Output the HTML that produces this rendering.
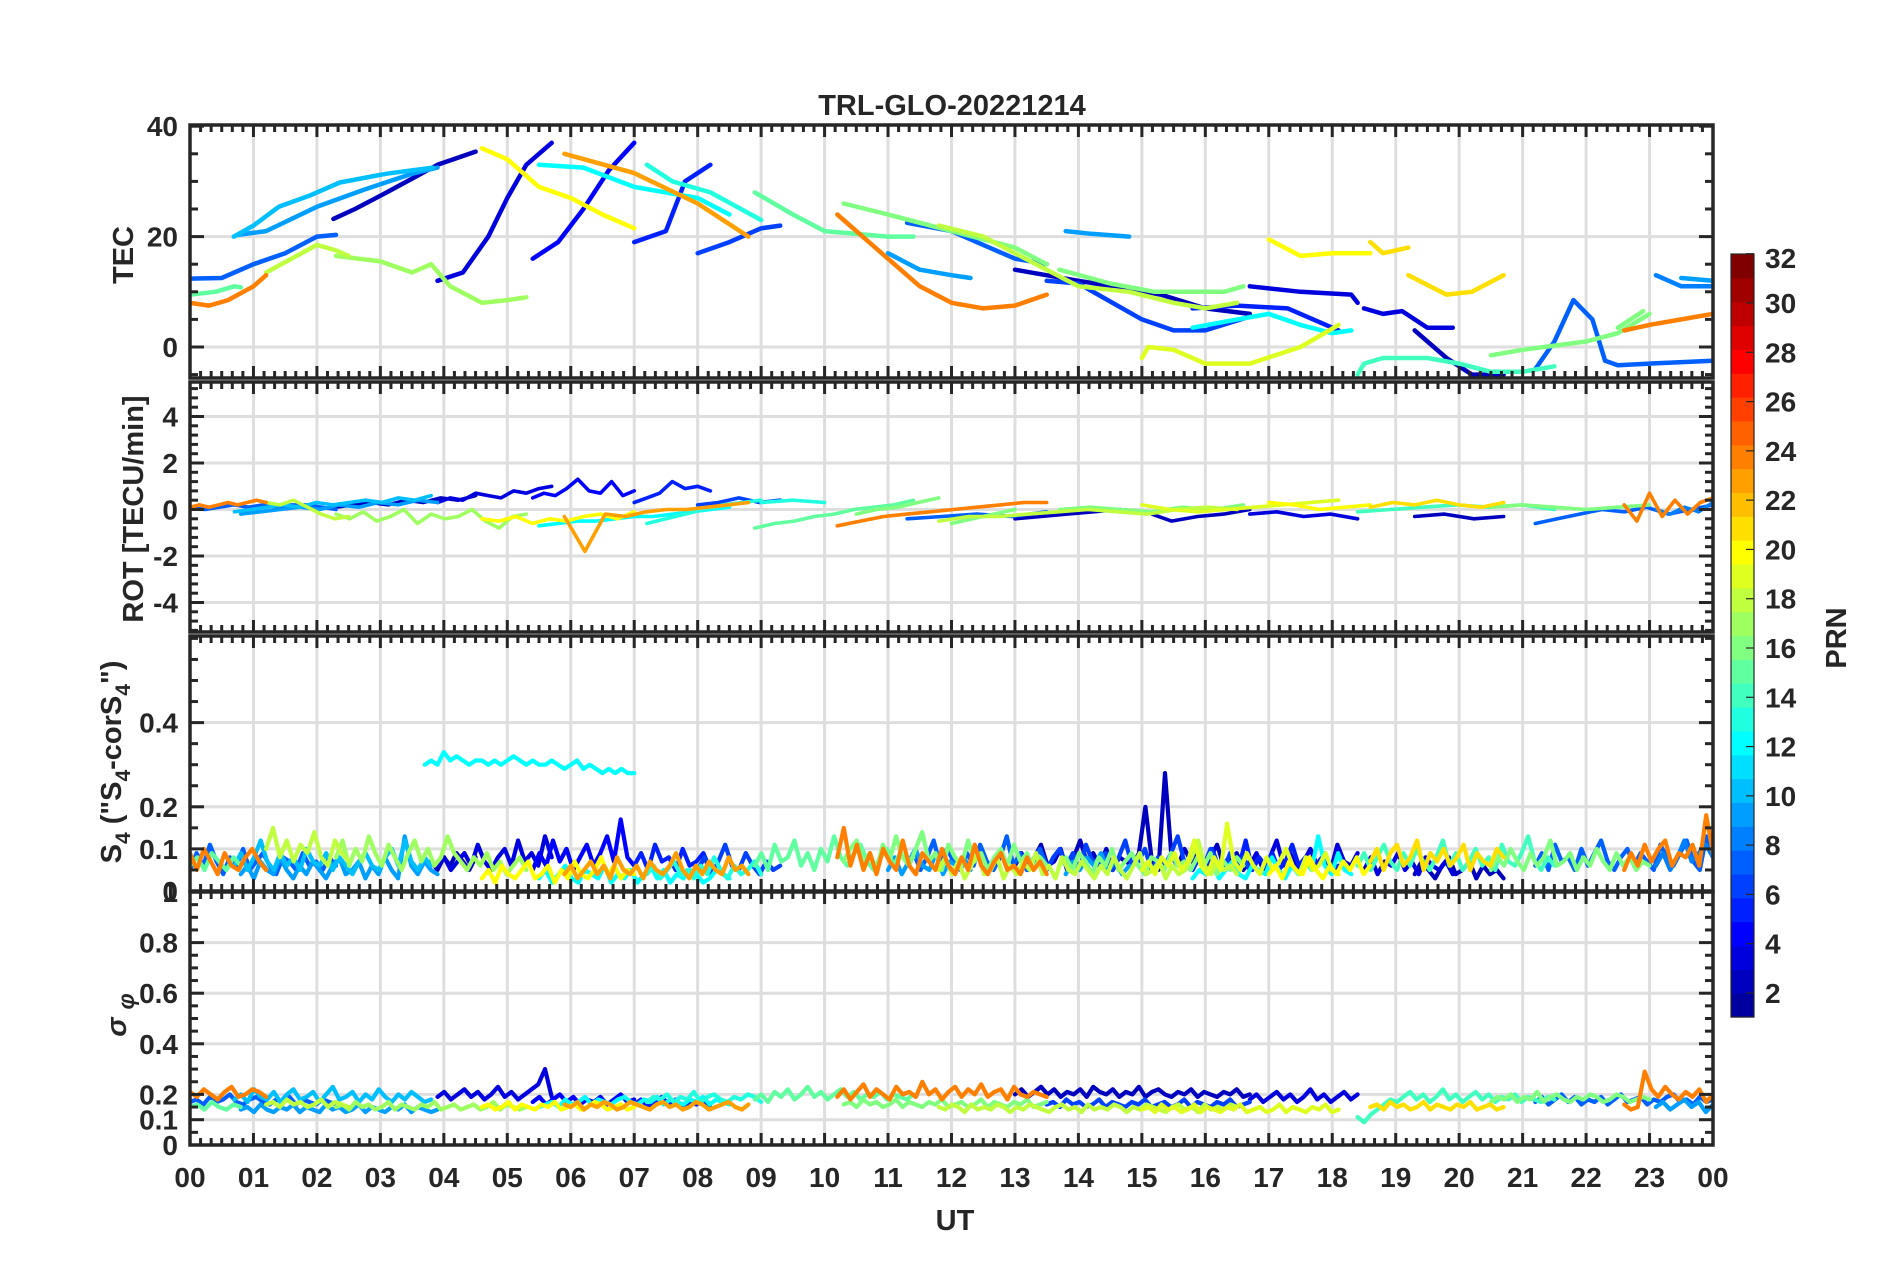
<!DOCTYPE html>
<html><head><meta charset="utf-8"><title>TRL-GLO-20221214</title>
<style>html,body{margin:0;padding:0;background:#fff}svg{display:block}text{font-family:"Liberation Sans",Arial,sans-serif;font-weight:bold;fill:#262626}</style>
</head><body>
<svg id="fig" width="1902" height="1272" viewBox="0 0 1902 1272" xmlns="http://www.w3.org/2000/svg">
<rect width="1902" height="1272" fill="#fff"/>
<text x="952" y="115" font-size="29" text-anchor="middle">TRL-GLO-20221214</text>
<g id="grids"></g><g id="data"></g><g id="axes"></g>
<text transform="translate(133,255) rotate(-90)" font-size="29" text-anchor="middle">TEC</text>
<text transform="translate(143,509) rotate(-90)" font-size="29" text-anchor="middle">ROT [TECU/min]</text>
<text transform="translate(121,762) rotate(-90)" font-size="29" text-anchor="middle">S<tspan font-size="21" dy="9">4</tspan><tspan dy="-9"> ("S</tspan><tspan font-size="21" dy="9">4</tspan><tspan dy="-9">-corS</tspan><tspan font-size="21" dy="9">4</tspan><tspan dy="-9">")</tspan></text>
<text transform="translate(126,1015) rotate(-90)" font-size="29" font-style="italic" font-weight="normal" text-anchor="middle">σ <tspan font-size="23" dy="8">φ</tspan></text>
<text x="955" y="1230" font-size="29" text-anchor="middle">UT</text>
<g id="cbar"></g>
<text transform="translate(1846,638) rotate(-90)" font-size="29" text-anchor="middle">PRN</text>
</svg>
<script>
// ---------- data ----------
const tecPRN = [7,15,24,10,9,2,18,17,3,20,4,12,23,5,13,6,15,24,16,7,9,18,2,6,9,16,19,12,3,5,20,21,21,3,2,14,16,7,24,8,9,16];
const tecSeries = [
[0,12.4,0.5,12.5,1,15,1.5,17,2,20,2.3,20.3],
[0,9.5,0.4,10,0.7,11,0.8,10.8],
[0,8,0.3,7.5,0.6,8.5,1,11,1.2,13],
[0.69,20,1,22,1.4,25.4,1.9,27.5,2.36,29.8,3.1,31.4,3.83,32.5],
[0.75,20.3,1.2,21,2,25.4,2.74,28.5,3.5,31.4,3.9,32.5],
[2.26,23.2,2.6,25,3.1,28,3.5,30.5,3.9,33,4.5,35.4],
[1.2,13.5,1.6,16,2.0,18.5,2.3,17.5,2.5,16.5],
[2.3,16.5,3,15.5,3.5,13.5,3.8,15,4.1,11,4.6,8,5,8.5,5.3,9],
[3.9,12,4.3,13.5,4.7,20,5.0,27,5.3,33,5.7,37],
[4.6,36,5,34,5.5,29,6,27,6.5,24,7,21.5],
[5.4,16,5.8,19,6.2,25,6.6,32,7,37],
[5.5,33,6.2,32.5,7,29,8,27,8.5,24],
[5.9,35,7,31.5,8,26,8.8,20],
[7.0,19,7.5,21,7.8,30,8.2,33],
[7.2,33,7.6,30,8.2,28,9,23],
[8.0,17,8.5,19,9,21.5,9.3,22],
[8.9,28,9.5,24,10,21,11,20,11.4,20],
[10.2,24,10.5,21,11,16,11.5,11,12,8,12.5,7,13,7.5,13.5,9.5],
[10.3,26,11,24,12,21,13,18,13.5,15],
[11.3,22.5,12,21,12.5,18.5,13,16,13.5,15],
[11,17,11.5,14,12,13,12.3,12.5],
[11.8,22,12.5,20,13,17,13.5,14,14,11,14.8,10,15.5,8,16,7,16.5,8],
[13,14,14,12,14.8,10.5,15.3,9.5,16,7,16.7,6],
[13.5,12,14,11.5,15,5,15.5,3,16,3,16.7,5.5],
[13.8,21,14.2,20.5,14.8,20],
[13.7,14,14.5,11.5,15.2,10,16.3,10,16.6,11],
[15,-2,15.1,0,15.5,-0.5,16,-3,16.7,-3,17.5,0,18.1,4],
[15.8,3.5,16.5,5,17,6,17.5,4,18,2.5,18.3,3],
[16.7,11,17.5,10,18.3,9.5,18.4,8],
[15.8,7,16.5,7.5,17.3,7,17.7,5,18.1,3],
[17,19.5,17.5,16.5,18,17,18.6,17],
[18.6,19,18.8,17,19.2,18],
[19.2,13,19.8,9.5,20.2,10,20.7,13],
[18.5,7,18.8,6,19.1,6.5,19.5,3.5,19.9,3.5],
[19.3,3,19.8,-2,20.2,-5,20.7,-5],
[18.4,-5,18.5,-3,18.8,-2,19.5,-2,20,-3,20.5,-4.5,21,-4.5,21.5,-3.5],
[20.5,-1.5,21,-0.5,22,1,22.5,2.5,23,6],
[21.2,-4,21.5,1,21.8,8.5,22.1,5,22.3,-2.5,22.5,-3.3,23,-3,24,-2.5],
[22.6,3,23,4,23.5,5,24,6],
[23.1,13,23.5,11,24,11],
[23.5,12.5,24,12],
[22.5,3.5,22.9,6.5]
];
const rotPRN = [24,7,10,9,18,17,2,3,20,4,12,23,5,13,6,15,13,24,16,16,7,2,18,16,19,3,20,21,14,2,7,16,24,8];
const rotStart = [0,0,0.7,0.8,1.2,2.3,2.3,3.9,4.6,5.4,5.5,5.9,7,7.2,8,8.9,9,10.2,10.5,12,11.3,13,11.8,13.7,15,16.7,17,18.6,18.4,19.3,21.2,20.5,22.6,23.1];
const rotEnd = [1.2,2.3,3.8,3.9,2.5,5.3,4.5,5.7,7,7,8.5,8.8,8.2,9,9.3,11.4,10,13.5,11.8,13,13.5,16.7,16.5,16.6,18.1,18.4,18.6,20.7,21.5,20.7,24,23,24,24];
const rotVals = [
[0.1,0.2,0.1,0.2,0.3,0.2,0.3,0.4,0.3],
[0.1,0,0.1,0.2,0.1,0.2,0.1,0.2,0.2,0.1,0],
[-0.1,0,0.1,0.2,0.1,0.3,0.2,0.3,0.4,0.3,0.5,0.4,0.6],
[-0.2,-0.1,0,0.1,0,0.2,0.1,0.3,0.2,0.4,0.3],
[0.3,0.2,0.4,0.1,-0.2,-0.4,-0.3],
[-0.2,-0.4,-0.1,-0.5,-0.3,0,-0.6,-0.2,-0.4,-0.3,0,-0.5,-0.8,-0.3,-0.2],
[0.1,0.2,0.3,0.2,0.4,0.3,0.5,0.4,0.6],
[0.3,0.5,0.4,0.7,0.6,0.5,0.8,0.7,0.9,1.0],
[-0.4,-0.5,-0.3,-0.6,-0.4,-0.5,-0.3,-0.2,-0.4,-0.1],
[0.5,0.7,0.6,0.9,1.3,0.8,0.7,1.2,0.6,0.8],
[-0.7,-0.6,-0.5,-0.5,-0.4,-0.3,-0.3,-0.2,-0.1,0,0.1],
[-0.3,-1.8,-0.2,-0.3,-0.1,0,0,0.1,0.2,0.3],
[0.3,0.5,0.7,1.2,0.9,1.0,0.8],
[-0.6,-0.4,-0.2,0,0.2,0.3,0.4],
[0.2,0.3,0.5,0.3,0.4],
[-0.8,-0.6,-0.5,-0.3,-0.2,0,0.1,0.2,0.4],
[0.3,0.4,0.3],
[-0.7,-0.5,-0.3,-0.2,-0.1,0,0.1,0.2,0.3,0.3],
[-0.2,0,0.1,0.3,0.5],
[-0.6,-0.4,-0.2,0],
[-0.4,-0.3,-0.2,-0.3,-0.1],
[-0.4,-0.3,-0.2,-0.1,0,-0.1,-0.5,-0.3,-0.2,0],
[-0.5,-0.3,-0.3,-0.2,-0.1,0,-0.1,-0.2,0,0.1,0],
[0,0.1,0,-0.1,0.1,0,0.2],
[0.2,0,-0.1,0,0.1,0.2,0.3,0.4],
[-0.2,-0.1,-0.3,-0.2,-0.4],
[0.3,0.2,0,0.1,0.2],
[0.1,0.3,0.2,0.4,0.2,0.1,0.3],
[-0.1,0,0.1,0.2,0.1,0.2,0],
[-0.3,-0.2,-0.4,-0.3],
[-0.6,-0.4,-0.2,0,-0.1,0.1,-0.2,0,0.2],
[0.1,0.2,0.1,0,0.1,0.2],
[0.2,-0.5,0.7,-0.3,0.4,-0.2,0.3,0.5],
[0,-0.2,0.1,-0.1,0.3]
];
const s4PRN = [7,15,24,10,9,18,17,2,3,20,4,12,12,23,5,13,6,15,24,16,7,9,18,2,6,9,16,19,12,3,5,20,21,3,2,14,16,7,24,8];
const s4Start = [0,0,0,0.7,0.8,1.2,2.3,3.8,3.9,4.6,5.4,5.5,3.7,5.9,7,7.2,8,8.9,10.2,10.3,11.3,11,11.8,13,13.5,13.8,13.7,15,15.8,16.7,15.8,17,18.6,18.5,19.3,18.4,20.5,21.2,22.6,23.1];
const s4End = [2.3,0.8,1.2,3.8,3.9,2.5,5.3,4.5,5.7,7,7,8.5,7.0,8.8,8.2,9,9.3,11.4,13.5,13.5,13.5,12.3,16.5,16.7,16.7,14.8,16.6,18.1,18.3,18.4,18.1,18.6,20.7,19.9,20.7,21.5,23,24,24,24];
const s4Vals = [
[5,9,6,11,7,4,8,6,10,5,7,9,6,4,8,7,5,9,6,7,5,8,6],
[6,8,5,9,7,5,8,6],
[9,5,10,7,4,9,6,5,8,10,7,5],
[6,9,5,8,12,7,5,9,6,8,5,10,7,6,9,5,8,6,4,7,9,6,5,8,10,6,12,7,5,8,6],
[4,6,3,7,5,4,8,5,3,6,4,7,5,3,6,8,4,5,7,3,6,4,8,5,3,13,6,4,7,5,4],
[10,15,8,12,7,11,9,14,8,6,12,9,7],
[8,12,6,10,7,13,9,6,11,8,5,9,12,7,10,6,8,13,9,7,5,8,6,9,5,7,4,6,8,5],
[7,5,8,6,9,7,5,8],
[6,8,5,7,9,6,11,7,5,8,10,6,12,7,9,6,13,8],
[3,5,2,6,4,3,5,7,3,4,6,2,5,3,7,4,3,5,8,4,6,3,5,4],
[5,9,6,12,7,10,5,8,11,6,9,13,7,17,8,6],
[3,5,2,4,6,3,2,5,4,3,6,2,4,3,5,2,4,6,3,5,2,4,3,5,4,2,3,5,4,3],
[30,31,30,33,31,32,31,30,31,31,30,31,30,31,32,31,30,31,30,30,31,30,29,30,31,29,30,29,28,29,28,29,28,28],
[4,6,3,5,7,4,6,3,8,5,4,6,3,7,5,4,6,9,5,3,6,4,7,5,4,8,5,6,4],
[6,9,5,11,7,8,5,10,6,7,9,5],
[4,6,3,5,7,4,5,3,6,4,8,5,3,6,4,5,7,4],
[5,8,4,7,11,6,5,9,6,4,7,5,6],
[6,9,5,11,7,8,12,6,9,5,10,7,13,8,6,9,11,7,5,8,10,6,9,7,8],
[8,15,6,11,5,9,4,10,7,5,12,6,4,9,7,5,10,6,4,8,5,11,6,4,7,9,5,6,4,8,5,7,4],
[7,10,12,6,9,5,11,7,13,8,6,10,14,7,9,5,11,8,6,12,7,9,5,8,10,6,11,7,9,5,8,6],
[6,9,5,8,12,6,10,7,5,9,6,11,7,5,8,13,6,9,5,7,10,6],
[5,8,4,7,10,6,5,9,4,7,6,8,5],
[5,8,4,7,3,6,9,4,5,8,3,6,4,7,5,9,4,6,3,8,5,4,7,5,3,6,4,8,5,3,6,9,4,5,7,3,6,4,5,8,12,6,4,7,5,6,4],
[6,9,5,8,11,6,7,10,5,8,12,7,9,6,10,5,8,7,6,9,20,7,5,28,8,6,10,7,9,5,8,11,6,7,9,5,7],
[5,8,10,6,9,5,11,7,6,9,5,8,12,6,7,10,5,8,6,9,13,7,5,8,6,10,7,5,9,6,8,5],
[4,7,5,8,6,9,5,7,4,6],
[6,8,5,9,7,4,8,6,10,5,7,9,6,4,8,7,5,9,6,7,5,8,6,9,4,7,5,8,6],
[5,7,4,8,6,9,5,7,12,6,4,8,5,16,7,5,9,6,4,8,5,7,10,6,4,8,5,6,9,5,4],
[3,5,4,6,3,5,7,4,3,6,5,4,8,5,3,6,4,7,5,13,6,4,9,5,4],
[6,9,5,8,12,6,9,5,7,10,6,8,5,11,7,6,9],
[5,8,6,10,5,7,9,6,12,5,8,6,9,5,7,11,6,8,5,7,9,5,6],
[4,6,3,7,5,4,8,5,3,6,4,7,5,8,4,6],
[7,10,5,9,11,6,8,12,5,9,7,10,6,8,11,5,9,7,6,10,8],
[5,8,4,7,6,9,5,7,4,8,6,5,7,4],
[4,7,5,3,6,8,4,5,7,3,6,4,5,3],
[6,9,5,8,11,7,5,9,6,10,7,5,8,12,6,9,5,7,10,6,8,5,11,7,6,9,13,7,5,8,6],
[5,8,6,10,7,5,9,6,8,12,6,7,9,5,8,6,10,7,5,9,6,8,5,7,6],
[6,9,5,11,7,8,5,10,6,9,12,7,5,8,10,6,9,7,5,11,8,6,9,12,7,5,13,8],
[5,9,6,11,7,10,12,6,9,8,11,6,18,9],
[6,9,5,8,12,7,9,11,8]
];
const sigPRN = [24,7,15,10,9,18,17,3,20,4,12,23,13,5,15,24,16,2,18,6,19,3,14,21,16,7,24,9];
const sigStart = [0,0,0,0.7,0.8,1.2,2.3,3.9,4.6,5.4,5.5,5.9,7.2,7,8.9,10.2,10.3,13,11.8,13.5,15,16.7,18.4,18.6,20.5,21.2,22.6,23.1];
const sigEnd = [1.2,2.3,0.8,3.8,3.9,2.5,5.3,5.7,7,7,8.5,8.8,9,8.2,11.4,13.5,13.5,16.7,16.5,16.7,18.1,18.4,21.5,20.7,23,24,24,24];
const sigVals = [
[21,19,22,20,18,21,23,19,20,22,21,19],
[17,18,16,19,17,18,20,17,16,18,19,17,16,18,17,19,16,18,17,16,18,17,16],
[15,16,14,17,15,14,16,15],
[18,20,17,22,19,18,21,17,20,22,18,19,21,17,20,23,18,19,21,17,20,18,22,19,17,20,18,21,19,17,18],
[14,15,13,16,14,13,15,14,16,13,15,14,13,16,14,15,13,14,16,13,15,14,13,15,14,16,13,15,14,13,14],
[16,17,15,18,16,17,15,16,18,15,17,16,15],
[15,16,14,17,15,16,14,15,17,14,16,15,14,16,15,17,14,15,16,14,15,16,14,15,17,14,16,15,14,15],
[19,21,18,20,22,19,21,18,20,23,19,21,18,20,22,24,30,19],
[15,16,14,15,17,14,16,15,14,16,15,17,14,15,16,14,15,17,16,14,15,16,14,15],
[17,19,16,18,20,17,19,16,18,17,19,16,18,20,17,18],
[15,16,17,15,18,16,17,19,16,18,17,16,18,19,17,16,18,17,19,16,18,17,16,18,17,19,16,18,17,16],
[16,15,17,14,16,15,17,16,14,15,17,16,15,14,16,17,15,16,14,15,17,16,14,15,16,17,15,14,16],
[17,19,18,20,17,19,18,21,17,19,20,18,17,19,18,20,19,17],
[16,18,15,17,19,16,18,15,17,16,18,15],
[18,20,17,21,19,22,18,20,23,19,21,18,20,22,19,21,18,20,19,21,18,20,19,18,20],
[19,22,18,21,24,19,22,20,18,23,20,21,19,25,20,22,18,21,23,19,22,20,24,19,21,22,18,23,20,19,21,20,19],
[16,17,15,18,16,17,15,16,18,15,17,16,15,17,16,18,15,16,17,15,16,18,15,17,16,15,17,16,18,15,16,17],
[20,22,19,21,23,20,22,19,21,20,22,19,23,21,20,22,19,21,20,23,19,21,22,20,19,21,20,22,19,21,20,19,21,20,22,19,20],
[15,14,16,15,13,16,14,15,14,16,15,13,15,14,16,15,14,13,15,16,14,15,13,16,14,15,14,16,15,13,15,14,16,15,14,13,15,16,14,15,13,16,14,15,14,16,15],
[16,17,15,18,16,17,15,16,18,15,17,16,15,17,16,18,15,16,17,15,16,18,15,17,16,15,17,16,18,15,16,17],
[14,15,13,16,14,15,13,14,16,13,15,14,13,15,14,16,13,14,15,13,14,16,13,15,14,13,15,14,16,13,14],
[18,20,17,19,21,18,20,17,19,22,18,20,17,19,21,18,20],
[11,9,12,14,16,18,17,19,21,18,20,17,19,22,18,20,17,19,21,18,20,17,19,18,20,17,19,18,17,19,18],
[15,16,14,17,15,16,14,15,17,14,16,15,14,16,15,17,14,15,16,14,15],
[17,19,18,20,17,19,18,21,17,19,20,18,17,19,18,20,19,17,18,20,19,17,18,19,18],
[17,19,16,18,20,17,19,16,18,17,19,16,18,20,17,18,19,16,18,17,19,20,17,18,16,19,17,18],
[16,14,15,29,22,19,23,20,18,21,19,22,17,20],
[15,17,14,16,18,15,17,13,16]
];
const xTickLabels = ["00","01","02","03","04","05","06","07","08","09","10","11","12","13","14","15","16","17","18","19","20","21","22","23","00"];
const cbTicks = [2,4,6,8,10,12,14,16,18,20,22,24,26,28,30,32];

// ---------- layout ----------
const NS = "http://www.w3.org/2000/svg";
const X0 = 190, X1 = 1713;
const X = t => X0 + t * (X1 - X0) / 24;
function mk(tag, attrs, parent){const e=document.createElementNS(NS,tag);for(const k in attrs)e.setAttribute(k,attrs[k]);parent.appendChild(e);return e;}
function jet(m){const n=Math.ceil(m/4);const u=[];for(let i=1;i<=n;i++)u.push(i/n);for(let i=1;i<n;i++)u.push(1);for(let i=n;i>=1;i--)u.push(i/n);
 const off=Math.ceil(n/2)-(m%4===1?1:0);const J=[];for(let i=0;i<m;i++)J.push([0,0,0]);
 for(let i=0;i<u.length;i++){const g=off+i+1,r=g+n,b=g-n;if(g>=1&&g<=m)J[g-1][1]=u[i];if(r>=1&&r<=m)J[r-1][0]=u[i];if(b>=1&&b<=m)J[b-1][2]=u[i];}
 return J.map(c=>`rgb(${Math.round(c[0]*255)},${Math.round(c[1]*255)},${Math.round(c[2]*255)})`);}
const JET = jet(32);
const col = p => JET[Math.max(0,Math.min(31,p-1))];

const panels = [
 {name:'tec', top:125, bot:378, y:v=>347-v*5.52, labels:[[0,'0'],[20,'20'],[40,'40']], grid:[0,20], minor:5, lo:-5.6, hi:40},
 {name:'rot', top:382, bot:632, y:v=>509.5-v*23.25, labels:[[-4,'-4'],[-2,'-2'],[0,'0'],[2,'2'],[4,'4']], grid:[-4,-2,0,2,4], minor:0.4, lo:-5.2, hi:5.4},
 {name:'s4', top:636, bot:891, y:v=>891-v*421, labels:[[0,'0'],[0.1,'0.1'],[0.2,'0.2'],[0.4,'0.4']], grid:[0.1,0.2,0.4], minor:0.05, lo:0, hi:0.6},
 {name:'sigma', top:892, bot:1145, y:v=>1145-v*253, labels:[[0,'0'],[0.1,'0.1'],[0.2,'0.2'],[0.4,'0.4'],[0.6,'0.6'],[0.8,'0.8'],[1,'1']], grid:[0.1,0.2,0.4,0.6,0.8], minor:0.05, lo:0, hi:1}
];
const G = document.getElementById('grids'), D = document.getElementById('data'), A = document.getElementById('axes');
const ink = '#262626';
panels.forEach(p=>{
 const gp = mk('g',{},G);
 
 
 for(let h=1;h<24;h++) mk('line',{x1:X(h),x2:X(h),y1:p.top,y2:p.bot,stroke:'#dedede','stroke-width':3},gp);
 p.grid.forEach(v=>{const y=p.y(v); if(y>p.top+2&&y<p.bot-2) mk('line',{x1:X0,x2:X1,y1:y,y2:y,stroke:'#dedede','stroke-width':3},gp);});
 const ga = mk('g',{},A);
 
 
 mk('rect',{x:X0,y:p.top,width:X1-X0,height:p.bot-p.top,fill:'none',stroke:ink,'stroke-width':3.5},ga);
 for(let k=0;k<=144;k++){const x=X(k/6);const L=(k%6===0)?12:7;
  mk('line',{x1:x,x2:x,y1:p.bot,y2:p.bot-L,stroke:ink,'stroke-width':3},ga);
  mk('line',{x1:x,x2:x,y1:p.top,y2:p.top+L,stroke:ink,'stroke-width':3},ga);}
 const n0=Math.ceil(p.lo/p.minor-1e-6), n1=Math.floor(p.hi/p.minor+1e-6);
 for(let k=n0;k<=n1;k++){const v=k*p.minor;const y=p.y(v);if(y<p.top-1||y>p.bot+1)continue;
  const major=p.labels.some(l=>Math.abs(l[0]-v)<1e-6);const L=major?14:8;
  mk('line',{x1:X0,x2:X0+L,y1:y,y2:y,stroke:ink,'stroke-width':3},ga);
  mk('line',{x1:X1,x2:X1-L,y1:y,y2:y,stroke:ink,'stroke-width':3},ga);}
 p.labels.forEach(l=>{const t=mk('text',{x:178,y:p.y(l[0])+10,'font-size':28,'text-anchor':'end'},ga);t.textContent=l[1];
  
  });
});
xTickLabels.forEach((s,i)=>{const t=mk('text',{x:X(i),y:1187,'font-size':28,'text-anchor':'middle'},A);t.textContent=s;
 
 });

const defs = mk('defs',{},document.getElementById('fig'));
panels.forEach((p,i)=>{const c=mk('clipPath',{id:'clip'+i},defs);mk('rect',{x:X0,y:p.top,width:X1-X0,height:p.bot-p.top},c);});

function drawSeries(group, prn, pts, w){const pl=mk('polyline',{points:pts.join(' '),fill:'none',stroke:col(prn),'stroke-width':w,'stroke-linejoin':'round','stroke-linecap':'round'},group);
 
 }
function order(arr){return arr.map((p,i)=>i).sort((a,b)=>arr[a]-arr[b]);}
const gT = mk('g',{'clip-path':'url(#clip0)'},D);


order(tecPRN).forEach(i=>{const s=tecSeries[i];const pts=[];for(let k=0;k<s.length;k+=2)pts.push(X(s[k]).toFixed(1)+','+panels[0].y(s[k+1]).toFixed(1));drawSeries(gT,tecPRN[i],pts,4.5);});
function drawSegs(pi, prns, st, en, vals, scale, w){
 const g = mk('g',{'clip-path':'url(#clip'+pi+')'},D);
 
 
 order(prns).forEach(i=>{const v=vals[i];const n=v.length;const pts=[];
  for(let k=0;k<n;k++){const t=st[i]+(en[i]-st[i])*(n>1?k/(n-1):0);pts.push(X(t).toFixed(1)+','+panels[pi].y(v[k]*scale).toFixed(1));}
  drawSeries(g,prns[i],pts,w);});
}
drawSegs(1, rotPRN, rotStart, rotEnd, rotVals, 1, 3.6);
drawSegs(2, s4PRN, s4Start, s4End, s4Vals, 0.01, 4.2);
drawSegs(3, sigPRN, sigStart, sigEnd, sigVals, 0.01, 4.2);

const CB = document.getElementById('cbar');
const cbTop=254, cbBot=1017, cbX=1731, cbW=23, band=(cbBot-cbTop)/32;
for(let i=0;i<32;i++){const r=mk('rect',{x:cbX,y:cbBot-(i+1)*band,width:cbW,height:band+0.6,fill:JET[i]},CB);
 
 }
mk('rect',{x:cbX,y:cbTop,width:cbW,height:cbBot-cbTop,fill:'none',stroke:ink,'stroke-width':1.2},CB);
const cbY = v => 993 - (v-2)*(993-303)/28;
cbTicks.forEach(v=>{const y=cbY(v);mk('line',{x1:cbX+cbW-8,x2:cbX+cbW,y1:y,y2:y,stroke:ink,'stroke-width':1.2},CB);
 const t=mk('text',{x:1765,y:(v===32?258:y)+10,'font-size':28},CB);t.textContent=String(v);
 
 });
</script>
</body></html>
